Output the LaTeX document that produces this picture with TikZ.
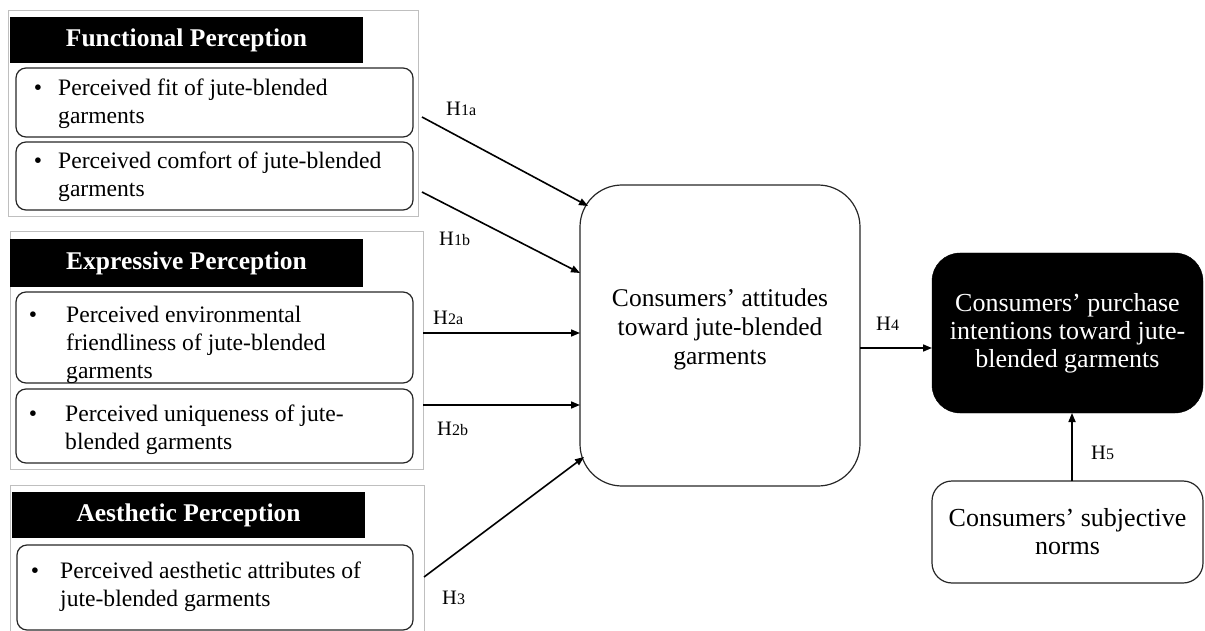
\documentclass[tikz,border=0pt]{standalone}
\usepackage{fontspec}
\setmainfont{Liberation Serif}
\usetikzlibrary{arrows.meta,calc}
\begin{document}
\begin{tikzpicture}[x=1pt,y=-1pt,
  outerbox/.style={draw=black!25, line width=1pt, inner sep=0pt, outer sep=0pt, anchor=north west},
  titlebox/.style={fill=black, draw=none, text=white, font=\fontsize{25.5}{30}\selectfont\bfseries, inner sep=0pt, outer sep=0pt, anchor=north west},
  bulletbox/.style={draw=black!85, line width=1.2pt, rounded corners=10pt, inner sep=0pt, outer sep=0pt, anchor=north west},
  btext/.style={font=\fontsize{23.6}{28}\selectfont, inner sep=0pt, anchor=base west},
  bdot/.style={font=\fontsize{23.6}{28}\selectfont, inner sep=0pt, anchor=base},
  hlabel/.style={font=\fontsize{20.5}{22}\selectfont, inner sep=0pt, anchor=base west},
  bigtext/.style={font=\fontsize{25.5}{29}\selectfont, inner sep=0pt, anchor=base},
  arr/.style={line width=1.6pt, -{Triangle[length=9pt,width=7pt]}},
]
\useasboundingbox (0,0) rectangle (1205,631);
\clip (0,0) rectangle (1205,631);
\newcommand{\hsub}[1]{{\fontsize{16}{18}\selectfont #1}}

% ---------- group 1 ----------
\node[outerbox, minimum width=410, minimum height=206] (g1) at (8,11) {};
\node[titlebox, minimum width=353, minimum height=46] (t1) at (10,17) {Functional Perception};
\node[bulletbox, minimum width=397, minimum height=69] (b1) at (16,68) {};
\node[bulletbox, minimum width=397, minimum height=68] (b2) at (16,142) {};
\node[bdot] (d1) at (38,96) {•};
\node[btext] (x1) at (58,96) {\parbox[t]{345pt}{Perceived fit of jute-blended\\garments}};
\node[bdot] (d2) at (38,169) {•};
\node[btext] (x2) at (58,169) {\parbox[t]{345pt}{Perceived comfort of jute-blended\\garments}};

% ---------- group 2 ----------
\node[outerbox, minimum width=413, minimum height=237] (g2) at (10,232) {};
\node[titlebox, minimum width=353, minimum height=48] (t2) at (10,239) {Expressive Perception};
\node[bulletbox, minimum width=397, minimum height=91] (b3) at (16,292) {};
\node[bulletbox, minimum width=397, minimum height=74] (b4) at (16,389) {};
\node[bdot] (d3) at (33,322) {•};
\node[btext] (x3) at (66,322) {\parbox[t]{340pt}{Perceived environmental\\friendliness of jute-blended\\garments}};
\node[bdot] (d4) at (33,421) {•};
\node[btext] (x4) at (65,421) {\parbox[t]{340pt}{Perceived uniqueness of jute-\\blended garments}};

% ---------- group 3 ----------
\node[outerbox, minimum width=414, minimum height=160] (g3) at (10,485) {};
\node[titlebox, minimum width=353, minimum height=46] (t3) at (12,492) {Aesthetic Perception};
\node[bulletbox, minimum width=396, minimum height=85] (b5) at (17,545) {};
\node[bdot] (d5) at (35,578) {•};
\node[btext] (x5) at (60,578) {\parbox[t]{345pt}{Perceived aesthetic attributes of\\jute-blended garments}};

% ---------- central and right ----------
\node[draw=black!85, line width=1.2pt, rounded corners=42pt, minimum width=280, minimum height=301, inner sep=0pt, outer sep=0pt] (att) at (720,335.5) {};
\node[bigtext] (atttext) at (720,306) {\parbox[t]{270pt}{\centering Consumers’ attitudes\\toward jute-blended\\garments}};

\node[fill=black, draw=black, rounded corners=28pt, minimum width=271, minimum height=160, inner sep=0pt, outer sep=0pt, text=white, align=center, font=\fontsize{26}{28}\selectfont] (pi) at (1067.5,333) {Consumers’ purchase\\intentions toward jute-\\blended garments};

\node[draw=black!85, line width=1.2pt, rounded corners=20pt, minimum width=271, minimum height=102, inner sep=0pt, outer sep=0pt, align=center, font=\fontsize{26}{28}\selectfont] (sn) at (1067.5,532) {Consumers’ subjective\\norms};

% ---------- connectors ----------
\draw[arr] ($(g1.east |- 0,117)+(4,0)$) -- ($(att.north west)+(8,21)$);
\draw[arr] ($(g1.east |- 0,192)+(4,0)$) -- (att.west |- 0,273);
\draw[arr] (g2.east |- 0,333) -- (att.west |- 0,333);
\draw[arr] (g2.east |- 0,405) -- (att.west |- 0,405);
\draw[arr] (g3.east |- 0,577) -- ($(att.south west)+(4,-29)$);
\draw[arr] (att.east |- 0,348) -- (pi.west |- 0,348);
\draw[arr] ($(sn.north)+(4.5,0)$) -- ($(pi.south)+(4.5,0)$);

% ---------- labels ----------
\node[hlabel] (h1a) at (446,116) {H\hsub{1a}};
\node[hlabel] (h1b) at (439,246) {H\hsub{1b}};
\node[hlabel] (h2a) at (433,324) {H\hsub{2a}};
\node[hlabel] (h2b) at (437,435) {H\hsub{2b}};
\node[hlabel] (h3) at (442,604) {H\hsub{3}};
\node[hlabel] (h4) at (876,330) {H\hsub{4}};
\node[hlabel] (h5) at (1091,459) {H\hsub{5}};
\end{tikzpicture}
\end{document}
